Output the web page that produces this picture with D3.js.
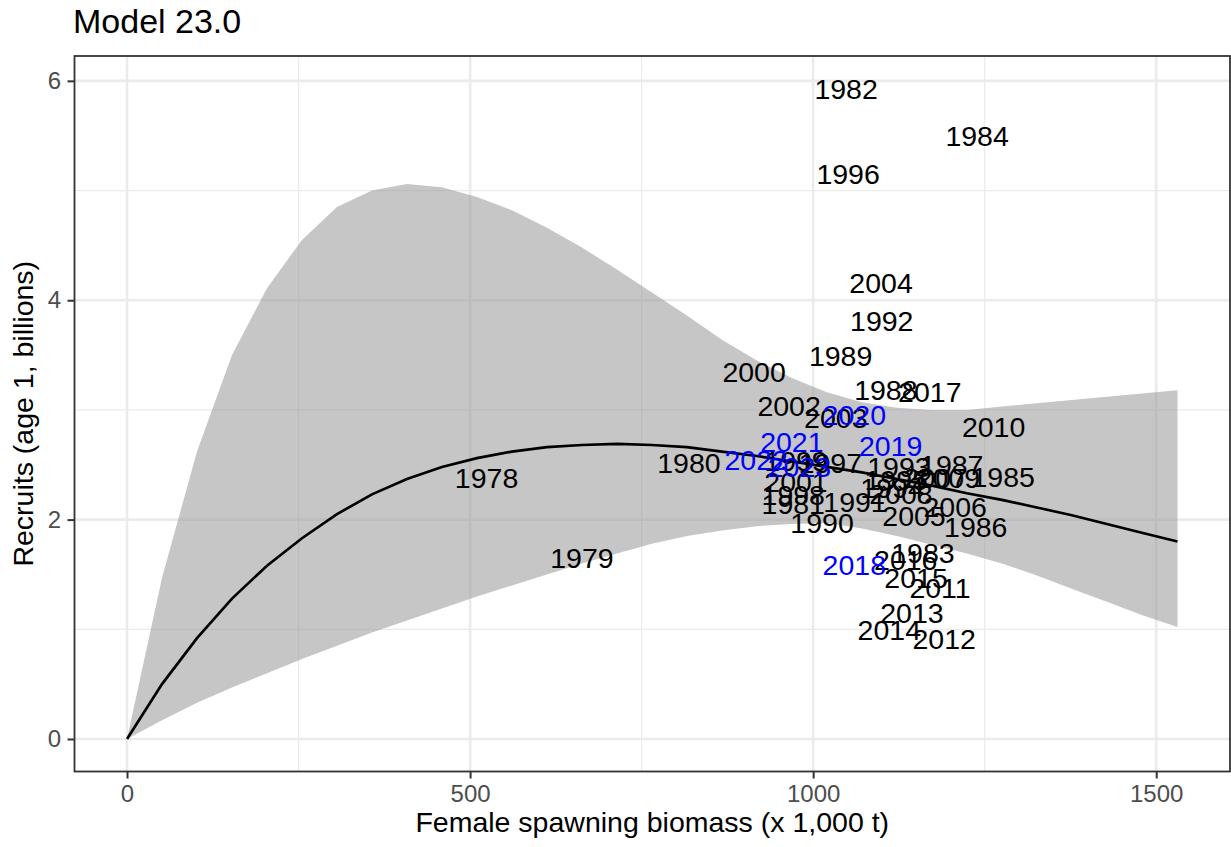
<!DOCTYPE html>
<html><head><meta charset="utf-8">
<script src="https://cdn.jsdelivr.net/npm/d3@7"></script>
<style>body{margin:0;background:#fff}svg{display:block}</style>
</head><body><svg id="c" width="1231" height="847"></svg>
<script>
// ---- data ----
const ssbGrid = [0,51,102,153,204,255,306,357,408,459,510,561,612,663,714,765,816,867,918,969,1020,1071,1122,1173,1224,1275,1326,1377,1428,1479,1531];
const recMid  = [0,0.50,0.92,1.28,1.58,1.83,2.05,2.23,2.37,2.48,2.56,2.62,2.66,2.68,2.69,2.68,2.66,2.62,2.58,2.53,2.48,2.43,2.37,2.31,2.24,2.18,2.11,2.04,1.96,1.88,1.80];
const recLo   = [0,0.17,0.33,0.47,0.60,0.73,0.85,0.97,1.08,1.19,1.30,1.40,1.50,1.60,1.69,1.78,1.85,1.90,1.94,1.96,1.97,1.92,1.85,1.77,1.69,1.60,1.49,1.37,1.25,1.13,1.02];
const recHi   = [0,1.47,2.62,3.50,4.11,4.55,4.85,5.00,5.06,5.03,4.94,4.82,4.66,4.48,4.28,4.07,3.86,3.64,3.45,3.29,3.16,3.07,3.02,3.00,3.00,3.03,3.06,3.09,3.12,3.15,3.18];

const estYears = [1978,1979,1980,1981,1982,1983,1984,1985,1986,1987,1988,1989,1990,1991,1992,1993,1994,1995,1996,1997,1998,1999,2000,2001,2002,2003,2004,2005,2006,2007,2008,2009,2010,2011,2012,2013,2014,2015,2016,2017];
const estSSB   = [524,663,819,971,1048,1160,1239,1277,1237,1202,1106,1040,1013,1061,1100,1125,1115,1121,1051,1025,971,975,914,975,965,1033,1099,1147,1207,1178,1128,1197,1263,1185,1191,1144,1111,1150,1135,1170];
const estRec   = [2.38,1.655,2.515,2.14,5.93,1.695,5.50,2.39,1.935,2.50,3.18,3.49,1.97,2.16,3.81,2.48,2.29,2.36,5.155,2.515,2.225,2.535,3.345,2.345,3.035,2.925,4.155,2.035,2.115,2.38,2.235,2.38,2.845,1.375,0.91,1.15,0.995,1.47,1.63,3.165];

const projYears = [2018,2019,2020,2021,2022,2023];
const projSSB   = [1060,1113,1060,969,917,980];
const projRec   = [1.585,2.67,2.955,2.705,2.545,2.48];

const xTicks = [0,500,1000,1500];
const xMinor = [250,750,1250];
const yTicks = [0,2,4,6];
const yMinor = [1,3,5];

const titleText = "Model 23.0";
const xTitle = "Female spawning biomass (x 1,000 t)";
const yTitle = "Recruits (age 1, billions)";

// ---- layout ----
const FONT = "'Liberation Sans', Arial, Helvetica, sans-serif";
const pL = 74.5, pR = 1230, pT = 56, pB = 771.5;
const svg = d3.select("#c");

const allX = ssbGrid.concat(estSSB, projSSB);
const allY = recLo.concat(recHi, recMid, estRec, projRec);
const [x0, x1] = d3.extent(allX), [y0, y1] = d3.extent(allY);
const x = d3.scaleLinear().domain([x0 - 0.05*(x1-x0), x1 + 0.05*(x1-x0)]).range([pL, pR]);
const y = d3.scaleLinear().domain([y0 - 0.05*(y1-y0), y1 + 0.05*(y1-y0)]).range([pB, pT]);

svg.append("rect").attr("width",1231).attr("height",847).attr("fill","#fff");

const g = svg.append("g");
// minor grid
g.selectAll(".mx").data(xMinor).join("line")
  .attr("x1",d=>x(d)).attr("x2",d=>x(d)).attr("y1",pT).attr("y2",pB)
  .attr("stroke","#ebebeb").attr("stroke-width",1.3);
g.selectAll(".my").data(yMinor).join("line")
  .attr("y1",d=>y(d)).attr("y2",d=>y(d)).attr("x1",pL).attr("x2",pR)
  .attr("stroke","#ebebeb").attr("stroke-width",1.3);
// major grid
g.selectAll(".Mx").data(xTicks).join("line")
  .attr("x1",d=>x(d)).attr("x2",d=>x(d)).attr("y1",pT).attr("y2",pB)
  .attr("stroke","#ebebeb").attr("stroke-width",2.6);
g.selectAll(".My").data(yTicks).join("line")
  .attr("y1",d=>y(d)).attr("y2",d=>y(d)).attr("x1",pL).attr("x2",pR)
  .attr("stroke","#ebebeb").attr("stroke-width",2.6);

// ribbon
const idx = d3.range(ssbGrid.length);
const area = d3.area().x(i=>x(ssbGrid[i])).y0(i=>y(recLo[i])).y1(i=>y(recHi[i]));
g.append("path").attr("d", area(idx)).attr("fill","#979797").attr("fill-opacity",0.55);

// curve
const line = d3.line().x(i=>x(ssbGrid[i])).y(i=>y(recMid[i]));
g.append("path").attr("d", line(idx)).attr("fill","none").attr("stroke","#000").attr("stroke-width",2.7);

// labels
const LFS = 28.5;
g.selectAll(".le").data(d3.range(estYears.length)).join("text")
  .attr("x",i=>x(estSSB[i])).attr("y",i=>y(estRec[i])).attr("dy","0.358em")
  .attr("text-anchor","middle").attr("font-family",FONT).attr("font-size",LFS)
  .attr("fill","#000").text(i=>estYears[i]);
g.selectAll(".lp").data(d3.range(projYears.length)).join("text")
  .attr("x",i=>x(projSSB[i])).attr("y",i=>y(projRec[i])).attr("dy","0.358em")
  .attr("text-anchor","middle").attr("font-family",FONT).attr("font-size",LFS)
  .attr("fill","#0000ff").text(i=>projYears[i]);

// panel border
svg.append("rect").attr("x",pL).attr("y",pT).attr("width",pR-pL).attr("height",pB-pT)
  .attr("fill","none").attr("stroke","#333").attr("stroke-width",1.8);

// axes
const TFS = 24;
const fmt = d3.format("d");
const ax = svg.append("g").attr("transform",`translate(0,${pB})`)
  .call(d3.axisBottom(x).tickValues(xTicks).tickFormat(fmt).tickSize(7).tickPadding(6.5).tickSizeOuter(0));
const ay = svg.append("g").attr("transform",`translate(${pL},0)`)
  .call(d3.axisLeft(y).tickValues(yTicks).tickFormat(fmt).tickSize(7).tickPadding(6.5).tickSizeOuter(0));
[ax, ay].forEach(a=>{
  a.select(".domain").remove();
  a.selectAll(".tick line").attr("stroke","#333").attr("stroke-width",2);
  a.selectAll(".tick text").attr("fill","#4d4d4d").attr("font-size",TFS).attr("font-family",FONT);
});

// titles
svg.append("text").attr("x",73).attr("y",33).attr("font-family",FONT).attr("font-size",34)
  .attr("fill","#000").text(titleText);
svg.append("text").attr("x",(pL+pR)/2).attr("y",832).attr("text-anchor","middle")
  .attr("font-family",FONT).attr("font-size",28.5).attr("fill","#000").text(xTitle);
svg.append("text").attr("transform",`translate(33,${(pT+pB)/2}) rotate(-90)`).attr("text-anchor","middle")
  .attr("font-family",FONT).attr("font-size",28.5).attr("fill","#000").text(yTitle);
</script>
</body></html>
